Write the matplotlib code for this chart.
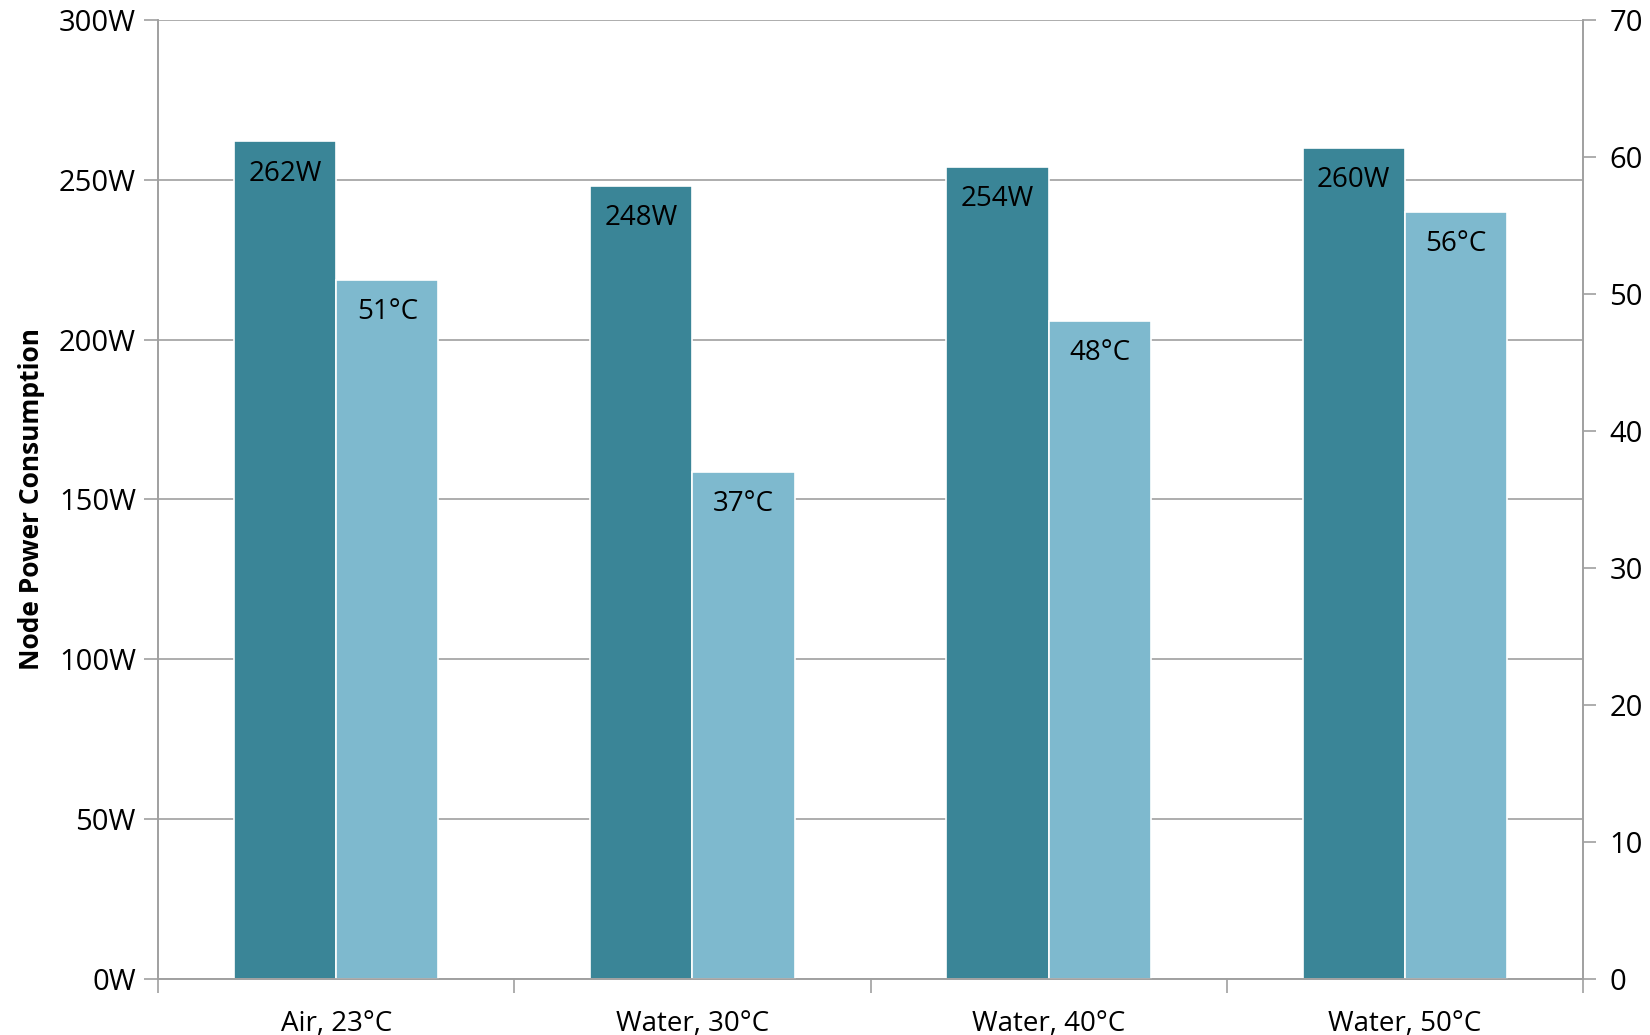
import matplotlib.pyplot as plt
import numpy as np

plt.rcParams['font.family'] = ['Open Sans', 'DejaVu Sans']
plt.rcParams['font.size'] = 20

# Data
categories = ['Air, 23°C', 'Water, 30°C', 'Water, 40°C', 'Water, 50°C']
power_w = [262, 248, 254, 260]
temp_c = [51, 37, 48, 56]

dark = '#3A8597'
light = '#7EB9CE'
grey = '#A0A0A0'

fig = plt.figure(figsize=(16.5, 10.35), dpi=100)
ax = fig.add_axes([0.0958, 0.0541, 0.8636, 0.9266])
ax2 = ax.twinx()

x = np.arange(len(categories))
w = 0.287

ax.set_axisbelow(True)
b1 = ax.bar(x - w / 2, power_w, width=w, color=dark, edgecolor='white', linewidth=1.2, zorder=2)
b2 = ax2.bar(x + w / 2, temp_c, width=w, color=light, edgecolor='white', linewidth=1.2, zorder=2)

for rect, v in zip(b1, power_w):
    ax.annotate(f'{v}W', (rect.get_x() + rect.get_width() / 2, v),
                xytext=(0, -13), textcoords='offset points', ha='center', va='top')
for rect, v in zip(b2, temp_c):
    ax2.annotate(f'{v}°C', (rect.get_x() + rect.get_width() / 2, v),
                 xytext=(0, -13), textcoords='offset points', ha='center', va='top')

ax.set_xlim(-0.5, len(categories) - 0.5)
ax.set_ylim(0, 300)
ax2.set_ylim(0, 70)
ax.set_yticks(np.arange(0, 301, 50))
ax.set_yticklabels([f'{v}W' for v in range(0, 301, 50)])
ax2.set_yticks(np.arange(0, 71, 10))

ax.set_xticks(x)
ax.set_xticklabels(categories)
ax.set_xticks(np.arange(-0.5, len(categories), 1), minor=True)
ax.tick_params(axis='x', which='major', length=0, pad=22)
ax.tick_params(axis='x', which='minor', length=10, color=grey, width=1.2)
ax.tick_params(axis='y', length=10, color=grey, width=1.2, pad=6, labelsize=21)
ax2.tick_params(axis='y', length=9, color=grey, width=1.2, pad=10, labelsize=21)

ax.yaxis.grid(True, color=grey, linewidth=1.2)
ax.xaxis.grid(False)

for a in (ax, ax2):
    a.spines['top'].set_visible(False)
    for s in ('left', 'right', 'bottom'):
        a.spines[s].set_color(grey)
        a.spines[s].set_linewidth(1.2)

ax.set_ylabel('Node Power Consumption', fontweight='bold', fontsize=19, labelpad=10)

plt.savefig('out.png', dpi=100)
